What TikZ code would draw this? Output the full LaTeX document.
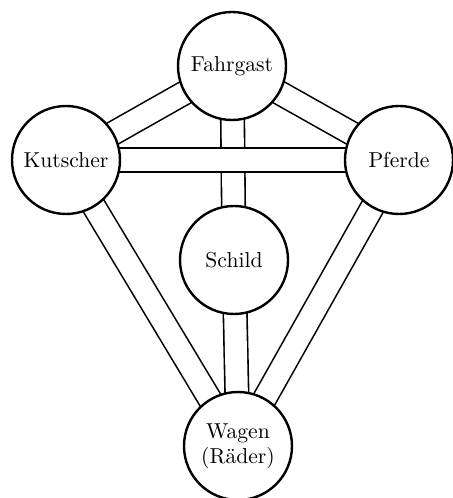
\documentclass[tikz,border=0pt]{standalone}
\usetikzlibrary{backgrounds}
\begin{document}
\begin{tikzpicture}[x=0.5pt,y=0.5pt,
    rolle/.style={circle,draw,line width=1.2pt,fill=white,minimum size=54pt,inner sep=0pt,
      align=center,font=\fontsize{10.8}{12.5}\selectfont},
    stange/.style={double distance=11pt,line width=0.8pt}]
    \useasboundingbox (0,0) rectangle (452,498);

    \node[rolle] (fahrgast) at (232,432) {Fahrgast};
    \node[rolle] (kutscher) at (66,338) {Kutscher};
    \node[rolle] (pferde) at (399,338) {Pferde};
    \node[rolle] (schild) at (234,238) {Schild};
    \node[rolle] (wagen) at (238,52) {Wagen\\(Räder)};

    % Stangen hinter den Kreisen
    \begin{scope}[on background layer]
      \draw[stange] (fahrgast.center) -- (kutscher.center);
      \draw[stange] (fahrgast.center) -- (pferde.center);
      \draw[stange] (fahrgast.center) -- (schild.center);
      \draw[stange] (kutscher.center) -- (pferde.center);
      \draw[stange] (kutscher.center) -- (wagen.center);
      \draw[stange] (pferde.center) -- (wagen.center);
      \draw[stange] (schild.center) -- (wagen.center);
    \end{scope}
  \end{tikzpicture}
\end{document}
